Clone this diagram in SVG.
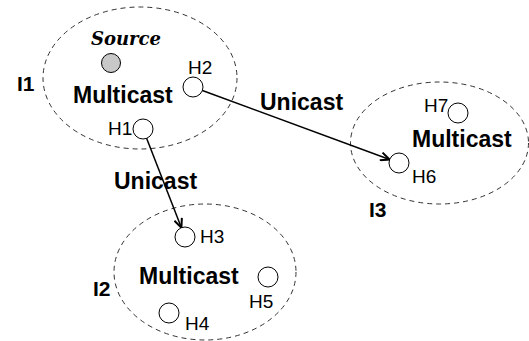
<svg xmlns="http://www.w3.org/2000/svg" width="529" height="341" viewBox="0 0 529 341">
<style>
.reg{fill:none;stroke:#333;stroke-width:1;stroke-dasharray:5,4}
.host{fill:#fff;stroke:#000;stroke-width:1}
.src{fill:#c8c8c8;stroke:#000;stroke-width:1}
.h{font-family:"Liberation Sans",Arial,sans-serif;font-size:19px;fill:#000}
.b{font-family:"Liberation Sans",Arial,sans-serif;font-size:23px;font-weight:bold;fill:#000}
.lab{font-family:"Liberation Sans",Arial,sans-serif;font-size:21px;font-weight:bold;fill:#000}
.s{font-family:"DejaVu Serif","Liberation Serif",serif;font-size:18px;font-weight:bold;font-style:italic;fill:#000}
.edge{fill:none;stroke:#000;stroke-width:1.5}
</style>
<defs>
<marker id="arr" markerUnits="userSpaceOnUse" viewBox="0 0 10 10" refX="10" refY="5" markerWidth="10" markerHeight="10" orient="auto">
<path d="M1,1 L10,5 L1,9" fill="none" stroke="#000" stroke-width="2"/>
</marker>
</defs>
<rect width="529" height="341" fill="#fff"/>
<g id="I1">
<ellipse class="reg" cx="140" cy="78" rx="97" ry="71"/>
<text class="lab" x="17" y="91">I1</text>
<text class="s" x="91" y="45">Source</text>
<text class="b" x="73" y="103">Multicast</text>
</g>
<g id="source"><circle class="src" cx="111" cy="63" r="9.5"/></g>
<g id="H2"><circle class="host" cx="193" cy="87" r="10"/><text class="h" x="188" y="74">H2</text></g>
<g id="H1"><circle class="host" cx="143" cy="129" r="10"/><text class="h" x="108" y="135">H1</text></g>
<g id="I2">
<ellipse class="reg" cx="205" cy="272" rx="91" ry="68"/>
<text class="lab" x="93" y="296">I2</text>
<text class="b" x="139" y="284">Multicast</text>
</g>
<g id="H3"><circle class="host" cx="185" cy="237" r="10"/><text class="h" x="200" y="243">H3</text></g>
<g id="H4"><circle class="host" cx="169" cy="313" r="10"/><text class="h" x="185" y="330">H4</text></g>
<g id="H5"><circle class="host" cx="268" cy="277" r="10"/><text class="h" x="249" y="308">H5</text></g>
<g id="I3">
<ellipse class="reg" cx="439.5" cy="143" rx="89" ry="61"/>
<text class="lab" x="369" y="217">I3</text>
<text class="b" x="412" y="147">Multicast</text>
</g>
<g id="H6"><circle class="host" cx="399" cy="163" r="10"/><text class="h" x="412" y="183">H6</text></g>
<g id="H7"><circle class="host" cx="458" cy="113" r="10"/><text class="h" x="424" y="112">H7</text></g>
<g id="connectors">
<line class="edge" x1="202.4" y1="90.5" x2="389.6" y2="159.5" marker-end="url(#arr)"/>
<line class="edge" x1="146.6" y1="138.3" x2="181.4" y2="227.7" marker-end="url(#arr)"/>
<text class="b" x="260" y="110">Unicast</text>
<text class="b" x="114" y="189">Unicast</text>
</g>
</svg>
